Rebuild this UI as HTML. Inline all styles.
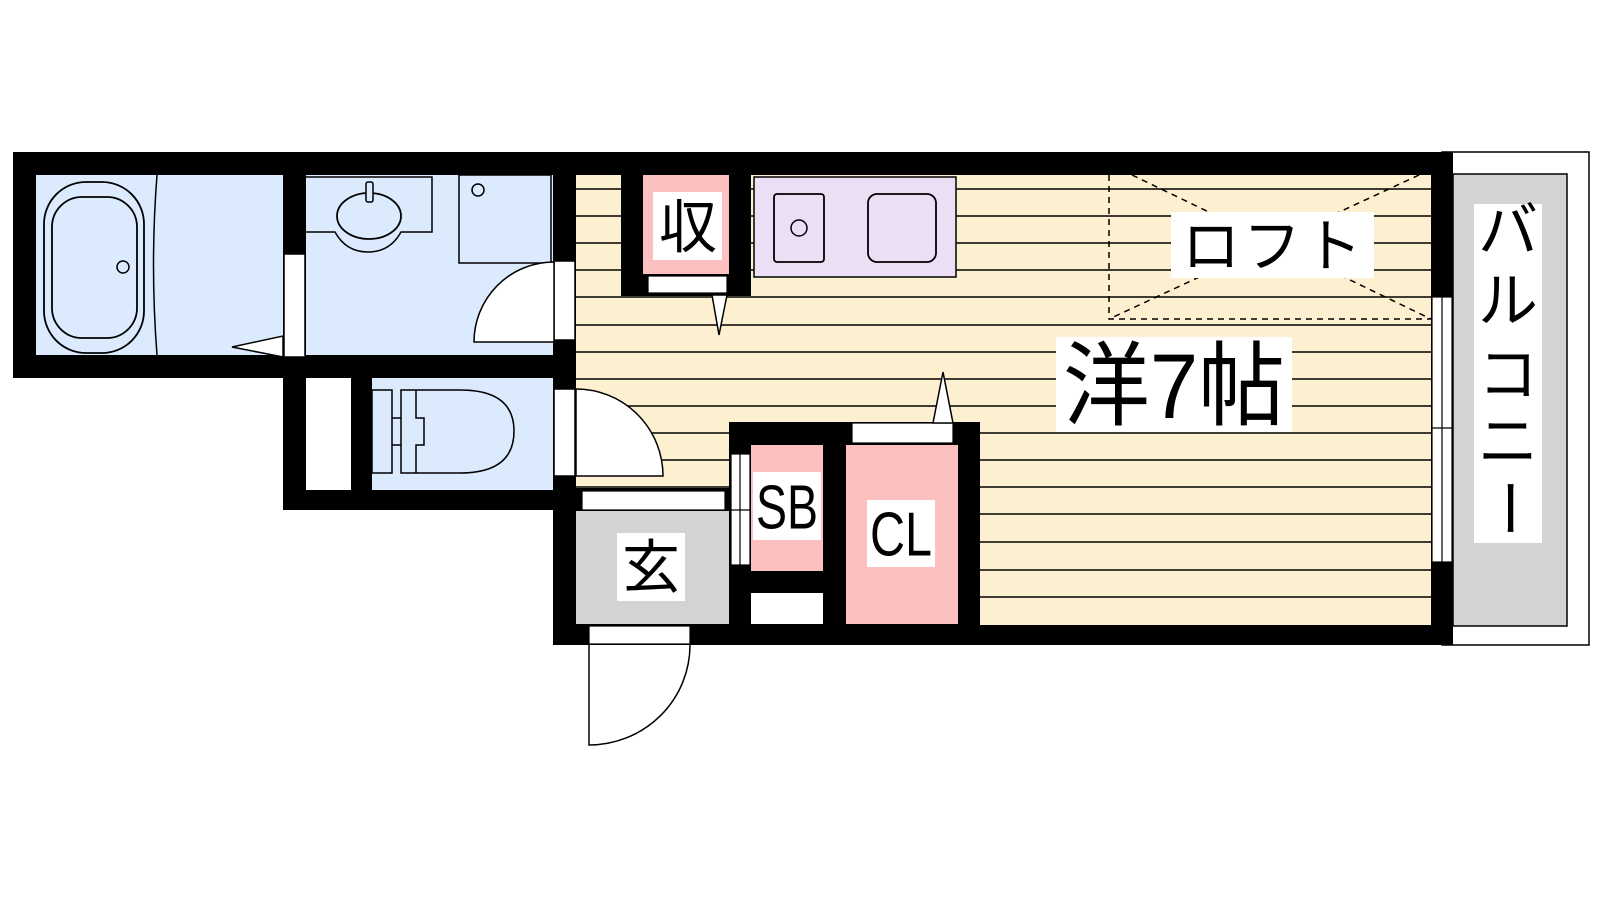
<!DOCTYPE html>
<html><head><meta charset="utf-8"><style>
html,body{margin:0;padding:0;background:#fff;}
svg{display:block;}
text{font-family:"Liberation Sans","Noto Sans CJK JP",sans-serif;fill:#000;}
</style></head><body>
<svg width="1600" height="900" viewBox="0 0 1600 900" xmlns="http://www.w3.org/2000/svg">
<!-- balcony -->
<rect x="1442" y="152" width="147" height="493" fill="#fff" stroke="#000" stroke-width="1.5"/>
<rect x="1453" y="174" width="114" height="452" fill="#d3d3d3" stroke="#000" stroke-width="1.5"/>

<!-- black wall masses -->
<rect x="13" y="152" width="1440" height="226" fill="#000"/>
<rect x="13" y="355" width="563" height="23" fill="#000"/>
<rect x="13" y="152" width="295" height="226" fill="#000"/>
<rect x="283" y="355" width="293" height="155" fill="#000"/>
<rect x="553" y="152" width="900" height="493" fill="#000"/>

<!-- bath -->
<rect x="36" y="175" width="247" height="180" fill="#dbeafd"/>
<path d="M157,175 Q150,265 157,355" fill="none" stroke="#000" stroke-width="1.5"/>
<rect x="44" y="182" width="100" height="171" rx="42" fill="none" stroke="#000" stroke-width="1.8"/>
<rect x="52" y="197" width="85" height="141" rx="30" fill="none" stroke="#000" stroke-width="1.8"/>
<circle cx="123" cy="267" r="6" fill="none" stroke="#000" stroke-width="1.5"/>
<polygon points="232,347 283,336 283,357" fill="#fff" stroke="#000" stroke-width="1.5"/>
<rect x="284" y="254" width="21" height="103" fill="#fff" stroke="#000" stroke-width="1.5"/>

<!-- washroom -->
<rect x="306" y="175" width="247" height="180" fill="#dbeafd"/>
<path d="M306,177 L432,177 L432,232 L401,232 Q390,252 368,252 Q346,252 335,232 L306,232" fill="none" stroke="#000" stroke-width="1.5"/>
<ellipse cx="369" cy="216" rx="32" ry="23" fill="none" stroke="#000" stroke-width="1.8"/>
<rect x="366" y="182" width="7" height="20" rx="2" fill="#dbeafd" stroke="#000" stroke-width="1.5"/>
<rect x="459" y="175" width="92" height="88" fill="none" stroke="#000" stroke-width="1.5"/>
<circle cx="478" cy="190" r="6" fill="none" stroke="#000" stroke-width="1.5"/>
<rect x="554" y="261" width="21" height="79" fill="#fff" stroke="#000" stroke-width="1.5"/>
<path d="M474,342 A80,80 0 0 1 554,262 L554,342 Z" fill="#fff" stroke="#000" stroke-width="1.5"/>

<!-- toilet + closet -->
<rect x="306" y="378" width="45" height="112" fill="#fff"/>
<rect x="372" y="378" width="181" height="112" fill="#dbeafd"/>
<rect x="372" y="390" width="20" height="83" fill="none" stroke="#000" stroke-width="1.5"/>
<path d="M401,390 L460,390 Q514,390 514,431 Q514,473 460,473 L401,473 Z" fill="none" stroke="#000" stroke-width="1.5"/>
<path d="M416,390 L416,418 L424,418 L424,445 L416,445 L416,473" fill="none" stroke="#000" stroke-width="1.5"/>
<line x1="392" y1="418" x2="401" y2="418" stroke="#000" stroke-width="1.5"/>
<line x1="392" y1="445" x2="401" y2="445" stroke="#000" stroke-width="1.5"/>

<!-- main room floor -->
<rect x="576" y="175" width="855" height="450" fill="#fdf0d0"/>
<g stroke="#000" stroke-width="1.5">
<line x1="576" y1="189" x2="1431" y2="189"/><line x1="576" y1="216" x2="1431" y2="216"/>
<line x1="576" y1="243" x2="1431" y2="243"/><line x1="576" y1="270" x2="1431" y2="270"/>
<line x1="576" y1="297" x2="1431" y2="297"/><line x1="576" y1="325" x2="1431" y2="325"/>
<line x1="576" y1="352" x2="1431" y2="352"/><line x1="576" y1="379" x2="1431" y2="379"/>
<line x1="576" y1="406" x2="1431" y2="406"/><line x1="576" y1="433" x2="1431" y2="433"/>
<line x1="576" y1="460" x2="1431" y2="460"/><line x1="576" y1="487" x2="1431" y2="487"/>
<line x1="576" y1="514" x2="1431" y2="514"/><line x1="576" y1="542" x2="1431" y2="542"/>
<line x1="576" y1="570" x2="1431" y2="570"/><line x1="576" y1="597" x2="1431" y2="597"/>
</g>
<rect x="576" y="175" width="45" height="10" fill="#fdf0d0"/>

<!-- toilet door into main -->
<rect x="554" y="389" width="21" height="87" fill="#fff" stroke="#000" stroke-width="1.5"/>
<path d="M576,389 A87,87 0 0 1 663,476 L576,476 Z" fill="#fff" stroke="#000" stroke-width="1.5"/>

<!-- 収 closet -->
<rect x="621" y="175" width="130" height="121" fill="#000"/>
<rect x="643" y="175" width="86" height="99" fill="#fcc0c0"/>
<rect x="648" y="276" width="79" height="17" fill="#fff" stroke="#000" stroke-width="1.2"/>
<polygon points="712,295 727,295 719,335" fill="#fff" stroke="#000" stroke-width="1.5"/>
<rect x="653" y="192" width="69" height="68" fill="#fff"/>
<text x="688" y="228" font-size="58" text-anchor="middle" dominant-baseline="central">収</text>

<!-- kitchen -->
<rect x="754" y="177" width="202" height="100" fill="#ecdff5" stroke="#000" stroke-width="1.5"/>
<rect x="774" y="194" width="50" height="68" rx="3" fill="none" stroke="#000" stroke-width="1.8"/>
<circle cx="799" cy="228" r="8" fill="none" stroke="#000" stroke-width="1.5"/>
<rect x="868" y="194" width="68" height="68" rx="9" fill="none" stroke="#000" stroke-width="1.8"/>

<!-- loft -->
<g stroke="#000" stroke-width="1.5" stroke-dasharray="6,5" fill="none">
<path d="M1109,175 L1109,319 L1431,319"/>
<line x1="1132" y1="175" x2="1431" y2="319"/>
<line x1="1419" y1="175" x2="1109" y2="319"/>
</g>
<rect x="1171" y="212" width="203" height="66" fill="#fff"/>
<text x="1272" y="247" font-size="58" text-anchor="middle" dominant-baseline="central" textLength="180" lengthAdjust="spacing">ロフト</text>

<!-- 洋7帖 -->
<rect x="1056" y="337" width="236" height="95" fill="#fff"/>
<text x="1174" y="387" font-size="92" text-anchor="middle" dominant-baseline="central" textLength="222" lengthAdjust="spacingAndGlyphs">洋7帖</text>

<!-- genkan -->
<rect x="553" y="488" width="176" height="157" fill="#000"/>
<rect x="582" y="491" width="143" height="19" fill="#fff" stroke="#000" stroke-width="1.2"/>
<rect x="576" y="511" width="153" height="113" fill="#d3d3d3"/>
<rect x="617" y="533" width="68" height="68" fill="#fff"/>
<text x="651" y="568" font-size="58" text-anchor="middle" dominant-baseline="central">玄</text>

<!-- SB / CL block -->
<rect x="729" y="422" width="251" height="223" fill="#000"/>
<rect x="751" y="445" width="72" height="126" fill="#fcc0c0"/>
<rect x="751" y="593" width="72" height="31" fill="#fff"/>
<rect x="731" y="454" width="19" height="111" fill="#fff" stroke="#000" stroke-width="1.2"/>
<line x1="740" y1="454" x2="740" y2="565" stroke="#000" stroke-width="1.2"/>
<line x1="731" y1="510" x2="750" y2="510" stroke="#000" stroke-width="1.2"/>
<rect x="846" y="445" width="112" height="179" fill="#fcc0c0"/>
<rect x="852" y="423" width="101" height="20" fill="#fff" stroke="#000" stroke-width="1.2"/>
<polygon points="933,423 953,423 943,372" fill="#fff" stroke="#000" stroke-width="1.5"/>
<rect x="753" y="472" width="68" height="68" fill="#fff"/>
<text x="787" y="508" font-size="62" text-anchor="middle" dominant-baseline="central" textLength="62" lengthAdjust="spacingAndGlyphs">SB</text>
<rect x="867" y="500" width="68" height="67" fill="#fff"/>
<text x="901" y="535" font-size="62" text-anchor="middle" dominant-baseline="central" textLength="62" lengthAdjust="spacingAndGlyphs">CL</text>

<!-- entry door -->
<rect x="589" y="626" width="101" height="18" fill="#fff" stroke="#000" stroke-width="1.2"/>
<path d="M589,645 L589,745 A101,100 0 0 0 690,645" fill="#fff" stroke="#000" stroke-width="1.5"/>

<!-- balcony window -->
<rect x="1432" y="297" width="20" height="265" fill="#fff" stroke="#000" stroke-width="1.2"/>
<line x1="1442" y1="297" x2="1442" y2="562" stroke="#000" stroke-width="1.2"/>
<line x1="1432" y1="428" x2="1452" y2="428" stroke="#000" stroke-width="1.2"/>

<!-- balcony label -->
<rect x="1474" y="204" width="68" height="339" fill="#fff"/>
<g font-size="60" text-anchor="middle">
<text x="1508" y="231" dominant-baseline="central">バ</text>
<text x="1508" y="301" dominant-baseline="central">ル</text>
<text x="1508" y="375" dominant-baseline="central">コ</text>
<text x="1508" y="442" dominant-baseline="central">ニ</text>
<text x="1508" y="508" dominant-baseline="central" transform="rotate(90 1508 508)">ー</text>
</g>
</svg>
</body></html>
